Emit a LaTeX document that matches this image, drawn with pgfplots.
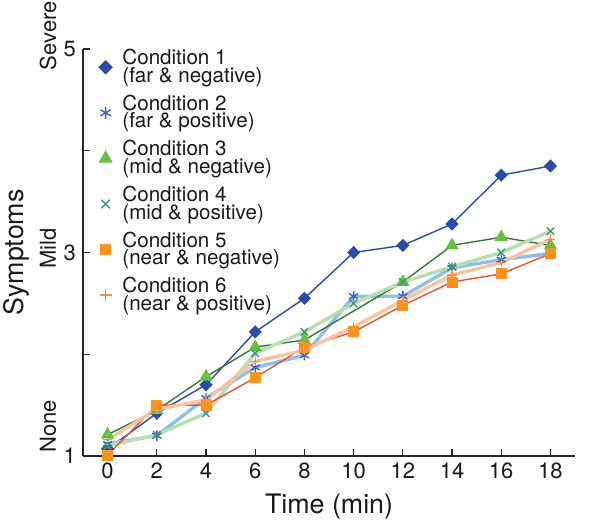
\documentclass[border=0pt]{standalone}
\usepackage{fontspec}
\setmainfont{TeX Gyre Heros}
\usepackage{pgfplots}
\pgfplotsset{compat=1.18}
\definecolor{cA}{HTML}{2B4BA8}
\definecolor{cB}{HTML}{3D62C4}
\definecolor{cBl}{HTML}{8CBFE9}
\definecolor{cC}{HTML}{6ABE45}
\definecolor{cCl}{HTML}{2F7A3A}
\definecolor{cD}{HTML}{3C9A6E}
\definecolor{cDl}{HTML}{B9DDB2}
\definecolor{cE}{HTML}{F7931E}
\definecolor{cEl}{HTML}{E9542A}
\definecolor{cF}{HTML}{F5923A}
\definecolor{cFl}{HTML}{F8C4A0}
\begin{document}
\begin{tikzpicture}
\begin{axis}[
  scale only axis, width=246pt, height=203.5pt,
  xmin=-1, xmax=19, ymin=1, ymax=5,
  axis x line*=bottom, axis y line*=left,
  axis line style={-, line width=0.6pt, color=black!85},
  tick align=inside, major tick length=3.5pt,
  tick style={line width=0.6pt, color=black!85},
  xtick={0,2,...,18},
  ytick={1,2,3,4,5}, yticklabels={1,,3,,5},
  /pgf/number format/assume math mode=true,
  tick label style={font=\fontsize{11}{12}\selectfont, text=black!90},
  clip=false,
  legend style={draw=none, fill=none, at={(rel axis cs:0.014,1.02)}, anchor=north west,
    font=\fontsize{10.3}{8.8}\selectfont, row sep=0.8pt, cells={align=left}, text=black!90},
  legend cell align=left,
  legend image code/.code={\draw[#1] plot coordinates {(0.15cm,0cm)}; \path (0cm,0cm) (0.15cm+6pt,0cm);},
]
% Condition 1
\addplot[color=cA, line width=0.7pt, mark=diamond*, mark size=2.8pt, mark options={fill=cA, draw=cA, xscale=1.33}, forget plot]
 coordinates {(0,1.07)(2,1.42)(4,1.70)(6,2.22)(8,2.55)(10,3.00)(12,3.07)(14,3.28)(16,3.76)(18,3.85)};
% Condition 2
\addplot[color=cBl, line width=1.7pt, mark=asterisk, mark size=2.6pt, mark options={draw=cB, line width=0.7pt}, forget plot]
 coordinates {(0,1.12)(2,1.20)(4,1.57)(6,1.87)(8,1.99)(10,2.57)(12,2.57)(14,2.85)(16,2.93)(18,2.99)};
% Condition 3
\addplot[color=cCl, line width=0.7pt, mark=triangle*, mark size=3.2pt, mark options={fill=cC, draw=cC}, forget plot]
 coordinates {(0,1.21)(2,1.45)(4,1.78)(6,2.07)(8,2.14)(12,2.71)(14,3.07)(16,3.15)(18,3.07)};
% Condition 4
\addplot[color=cDl, line width=1.7pt, mark=x, mark size=2.6pt, mark options={draw=cD, line width=0.7pt}, forget plot]
 coordinates {(0,1.10)(2,1.21)(4,1.42)(6,2.01)(8,2.22)(10,2.50)(12,2.71)(14,2.86)(16,3.00)(18,3.21)};
% Condition 5
\addplot[color=cEl, line width=0.7pt, mark=square*, mark size=2.4pt, mark options={fill=cE, draw=cE}, forget plot]
 coordinates {(0,1.01)(2,1.50)(4,1.50)(6,1.77)(8,2.07)(10,2.22)(12,2.48)(14,2.71)(16,2.79)(18,2.99)};
% Condition 6
\addplot[color=cFl, line width=1.7pt, mark=+, mark size=2.4pt, mark options={draw=cF, line width=0.7pt}, forget plot]
 coordinates {(0,1.16)(2,1.46)(4,1.55)(6,1.93)(8,2.04)(10,2.27)(12,2.53)(14,2.78)(16,2.90)(18,3.13)};

\addlegendimage{only marks, mark=diamond*, mark size=3.3pt, color=cA, mark options={xscale=1.33, draw=cA, fill=cA}}
\addlegendentry{Condition 1\\(far \& negative)}
\addlegendimage{only marks, mark=asterisk, mark size=3pt, color=cB, line width=0.7pt, mark options={draw=cB}}
\addlegendentry{Condition 2\\(far \& positive)}
\addlegendimage{only marks, mark=triangle*, mark size=3.7pt, color=cC, mark options={draw=cC, fill=cC}}
\addlegendentry{Condition 3\\(mid \& negative)}
\addlegendimage{only marks, mark=x, mark size=3pt, color=cD, line width=0.7pt, mark options={draw=cD}}
\addlegendentry{Condition 4\\(mid \& positive)}
\addlegendimage{only marks, mark=square*, mark size=2.6pt, color=cE, mark options={draw=cE, fill=cE}}
\addlegendentry{Condition 5\\(near \& negative)}
\addlegendimage{only marks, mark=+, mark size=3pt, color=cF, line width=0.8pt, mark options={draw=cF}}
\addlegendentry{Condition 6\\(near \& positive)}

\node[rotate=90, font=\fontsize{11}{12}\selectfont, text=black!90] at (axis cs:-2.42,1.29) {None};
\node[rotate=90, font=\fontsize{11}{12}\selectfont, text=black!90] at (axis cs:-2.42,3.04) {Mild};
\node[rotate=90, font=\fontsize{11}{12}\selectfont, text=black!90] at (axis cs:-2.42,5.13) {Severe};
\node[rotate=90, font=\fontsize{13.4}{15}\selectfont, text=black!90] at (rel axis cs:-0.136,0.5) {Symptoms};
\node[font=\fontsize{13.4}{15}\selectfont, text=black!90] at (rel axis cs:0.5,-0.125) {Time (min)};

\coordinate (bbsw) at (rel axis cs:-0.1687,-0.1818);
\coordinate (bbne) at (rel axis cs:1.0528,1.1204);
\end{axis}
\pgfresetboundingbox
\path[use as bounding box] (bbsw) rectangle (bbne);
\end{tikzpicture}
\end{document}
